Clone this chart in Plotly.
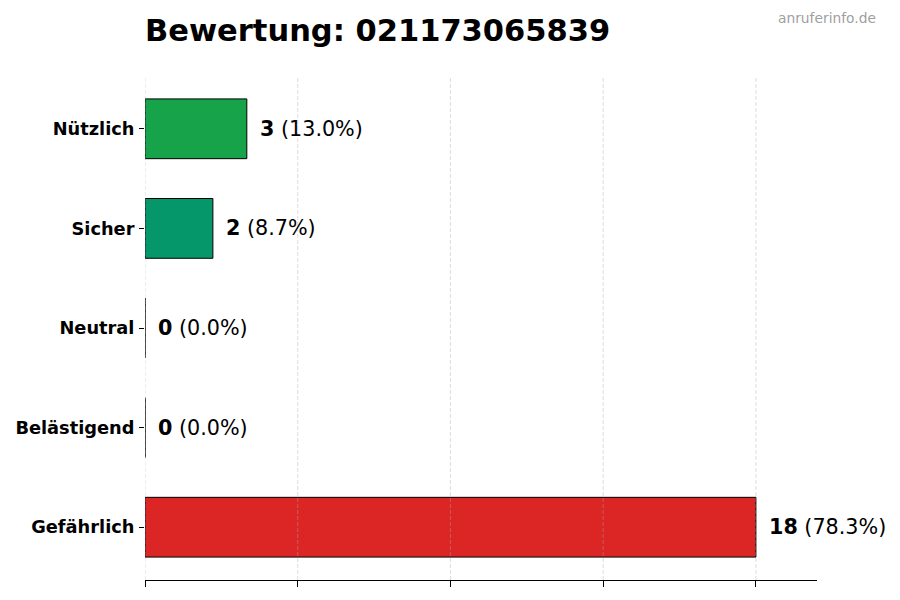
"""Bewertung chart: horizontal bars of rating counts for one phone number."""

import plotly.graph_objects as go

# Data
categories = ["Gefährlich", "Belästigend", "Neutral", "Sicher", "Nützlich"]
counts = [18, 0, 0, 2, 3]
colors = ["#dc2626", "#6b7280", "#6b7280", "#059669", "#16a34a"]
tick_values = [0, 4.5, 9, 13.5, 18]
title_text = "Bewertung: 021173065839"
watermark = "anruferinfo.de"

total = sum(counts)

fig = go.Figure(
    go.Bar(
        x=counts,
        y=categories,
        orientation="h",
        width=0.6,
        marker=dict(color=colors, line=dict(color="#000000", width=1)),  # noqa: C408
        hoverinfo="skip",
    )
)

for cat, n in zip(categories, counts):
    fig.add_annotation(
        x=n,
        y=cat,
        text=f"<b>{n}</b> ({n / total * 100:.1f}%)",
        xanchor="left",
        xshift=11,
        showarrow=False,
        font=dict(size=20.7, color="#000000"),  # noqa: C408
    )

# grid drawn on top of the bars, like the original
for tv in tick_values:
    fig.add_shape(
        type="line",
        xref="x",
        yref="paper",
        x0=tv,
        x1=tv,
        y0=0,
        y1=1,
        layer="above",
        line=dict(color="rgba(170,170,170,0.5)", width=0.8, dash="4px,2px"),  # noqa: C408
    )

fig.add_annotation(
    xref="paper",
    yref="paper",
    x=1.0908,
    y=1.115,
    text=watermark,
    xanchor="right",
    yanchor="middle",
    showarrow=False,
    font=dict(size=13.8, color="#a0a0a0"),  # noqa: C408
)

# page body adds an 8px margin, so the figure is 892x592 and shifted back
fig.update_layout(
    width=892,
    height=592,
    margin=dict(l=137, r=83, t=68, b=20, autoexpand=False),  # noqa: C408
    paper_bgcolor="white",
    plot_bgcolor="white",
    font=dict(family="DejaVu Sans", color="#000000"),  # noqa: C408
    title=dict(  # noqa: C408
        text=f"<b>{title_text}</b>",
        x=137 / 892,
        xanchor="left",
        y=1 - 22 / 592,
        yanchor="middle",
        font=dict(size=30.5, color="#000000"),  # noqa: C408
    ),
    showlegend=False,
    bargap=0.4,
)
fig.update_xaxes(
    range=[0, 19.8],
    tickmode="array",
    tickvals=tick_values,
    showticklabels=False,
    ticks="outside",
    ticklen=6,
    tickcolor="#000000",
    showline=True,
    linecolor="#000000",
    linewidth=1,
    showgrid=False,
    zeroline=False,
    automargin=False,
    layer="above traces",
)
fig.update_yaxes(
    categoryorder="array",
    categoryarray=categories,
    range=[-0.53, 4.53],
    ticks="outside",
    ticklen=5,
    tickcolor="#000000",
    ticklabelstandoff=1,
    showline=False,
    showgrid=False,
    zeroline=False,
    automargin=False,
    tickfont=dict(size=17.8, color="#000000", family="DejaVu Sans", weight="bold"),  # noqa: C408
)

fig.write_html("out.html")
